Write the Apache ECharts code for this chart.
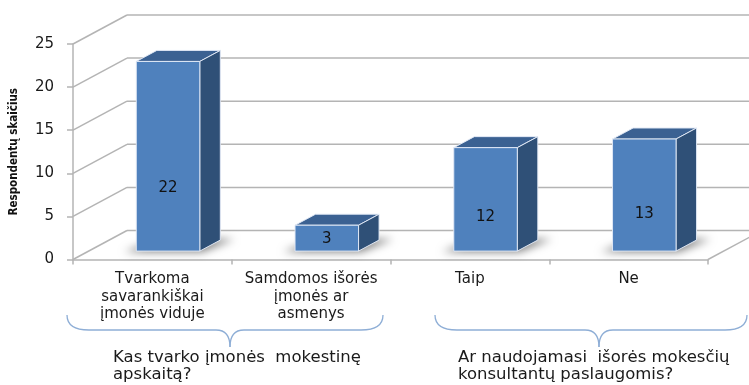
<!DOCTYPE html>
<html>
<head>
<meta charset="utf-8">
<script src="https://cdn.jsdelivr.net/npm/echarts/dist/echarts.min.js"></script>
<style>html,body{margin:0;padding:0;background:#fff;}#c{width:749px;height:385px;}</style>
</head>
<body>
<div id="c"></div>
<script>
// ---- data ----
const categories = ['Tvarkoma\nsavarankiškai\nįmonės viduje', 'Samdomos išorės\nįmonės ar\nasmenys', 'Taip', 'Ne'];
const values = [22, 3, 12, 13];
const yTicks = [0, 5, 10, 15, 20, 25];
const yAxisTitle = 'Respondentų skaičius';
const groupTitles = ['Kas tvarko įmonės  mokestinę\napskaitą?', 'Ar naudojamasi  išorės mokesčių\nkonsultantų paslaugomis?'];

// ---- style / projection constants ----
const DX = 54, DY = -29;      // depth of the 3D box
const F1 = 0.29, FD = 0.38;   // bar front offset and bar depth (fraction of box depth)
const BAR_W = 0.4;
const GRID_COLOR = '#b4b4b4';
const FONT = 'DejaVu Sans';

const chart = echarts.init(document.getElementById('c'), null, {renderer: 'canvas'});

function wallsItem(params, api) {
  const v = api.value(1);
  const cs = params.coordSys;
  const p = api.coord([0, v]);
  const y = p[1];
  const gx = cs.x, gr = cs.x + cs.width;
  const ls = {stroke: GRID_COLOR, lineWidth: 1.5};
  const ch = [
    {type: 'line', shape: {x1: gx, y1: y, x2: gx + DX, y2: y + DY}, style: ls},
    {type: 'line', shape: {x1: gx + DX, y1: y + DY, x2: gr + DX, y2: y + DY}, style: ls}
  ];
  if (v === 0) {
    ch.push({type: 'line', shape: {x1: gr, y1: y, x2: gr + DX, y2: y + DY}, style: ls});
  }
  return {type: 'group', children: ch};
}

function barItem(params, api) {
  const i = api.value(0), v = api.value(1);
  const base = api.coord([i, 0]);
  const top = api.coord([i, v]);
  const w = api.size([1, 0])[0] * BAR_W;
  const ox = DX * F1, oy = DY * F1, bx = DX * FD, by = DY * FD;
  const L = base[0] - w / 2 + ox, R = base[0] + w / 2 + ox;
  const B = base[1] + oy, T = top[1] + oy;
  const edge = 'rgba(225,233,245,0.95)';
  const SH = 3000;
  const shadowPts = [[L - 12, B + 1], [R + 2, B + 1], [R + bx + 14, B + by - 1], [L + bx, B + by]]
    .map(p => [p[0] - SH, p[1]]);
  const h = B - T;
  const ly = B - Math.max(h * 0.33, 12);
  return {
    type: 'group',
    children: [
      {type: 'polygon', shape: {points: shadowPts},
        style: {fill: '#000', shadowColor: 'rgba(0,0,0,0.5)', shadowBlur: 8, shadowOffsetX: SH, shadowOffsetY: 0}},
      {type: 'polygon', shape: {points: [[L, T], [L + bx, T + by], [R + bx, T + by], [R, T]]},
        style: {fill: '#3b6192', stroke: edge, lineWidth: 1}},
      {type: 'polygon', shape: {points: [[R, T], [R + bx, T + by], [R + bx, B + by], [R, B]]},
        style: {fill: '#2f5077', stroke: edge, lineWidth: 1}},
      {type: 'rect', shape: {x: L, y: T, width: R - L, height: B - T},
        style: {fill: '#4f81bd', stroke: edge, lineWidth: 1}},
      {type: 'text', x: (L + R) / 2, y: ly,
        style: {text: String(v), fill: '#111', font: '15px "' + FONT + '"', align: 'center', verticalAlign: 'middle'}}
    ]
  };
}

function brace(x1, x2, tip, yTop, yMid, yTip) {
  const st = {stroke: '#8eaed6', lineWidth: 1.3, fill: null};
  const q = (ax, ay, cx, cy, bx, by) => ({type: 'bezierCurve', shape: {x1: ax, y1: ay, cpx1: cx, cpy1: cy, x2: bx, y2: by}, style: st});
  const l = (ax, ay, bx, by) => ({type: 'line', shape: {x1: ax, y1: ay, x2: bx, y2: by}, style: st});
  return {
    type: 'group',
    children: [
      q(x1, yTop, x1, yMid, x1 + 22, yMid),
      l(x1 + 22, yMid, tip - 14, yMid),
      q(tip - 14, yMid, tip, yMid, tip, yTip),
      q(tip, yTip, tip, yMid, tip + 14, yMid),
      l(tip + 14, yMid, x2 - 22, yMid),
      q(x2 - 22, yMid, x2, yMid, x2, yTop)
    ]
  };
}

const option = {
  animation: false,
  backgroundColor: '#ffffff',
  grid: {left: 72, right: 41, top: 44, bottom: 125.5, containLabel: false},
  xAxis: {
    type: 'category',
    data: categories,
    boundaryGap: true,
    axisLine: {show: true, lineStyle: {color: GRID_COLOR, width: 1.5}},
    axisTick: {show: true, length: 5, lineStyle: {color: GRID_COLOR, width: 1.5}},
    axisLabel: {interval: 0, margin: 11, color: '#1a1a1a', fontFamily: FONT, fontSize: 15, lineHeight: 17.5, align: 'center'},
    splitLine: {show: false}
  },
  yAxis: {
    type: 'value',
    min: 0, max: 25, interval: 5,
    name: yAxisTitle,
    nameLocation: 'middle',
    nameGap: 53,
    nameRotate: 90,
    nameTextStyle: {fontFamily: '"Liberation Sans Narrow", "DejaVu Sans Condensed", sans-serif', fontWeight: 'bold', fontSize: 11.5, color: '#111'},
    axisLine: {show: true, lineStyle: {color: GRID_COLOR, width: 1.5}},
    axisTick: {show: true, length: 6, lineStyle: {color: GRID_COLOR, width: 1.5}},
    axisLabel: {margin: 19, color: '#1a1a1a', fontFamily: FONT, fontSize: 15},
    splitLine: {show: false}
  },
  series: [
    {
      type: 'custom', name: 'walls', z: 1, clip: false, silent: true,
      renderItem: wallsItem,
      encode: {x: 0, y: 1},
      data: yTicks.map(v => [0, v])
    },
    {
      type: 'custom', name: 'Respondentai', z: 3, clip: false,
      renderItem: barItem,
      encode: {x: 0, y: 1},
      data: values.map((v, i) => [i, v])
    }
  ],
  graphic: [
    brace(67, 383, 230, 315, 330, 347),
    brace(435, 747, 599, 315, 330, 347),
    {type: 'text', x: 113, y: 349, scaleX: 1.1,
      style: {text: groupTitles[0], fill: '#1a1a1a', font: '15px "DejaVu Sans"', lineHeight: 17.5}},
    {type: 'text', x: 458, y: 349, scaleX: 1.1,
      style: {text: groupTitles[1], fill: '#1a1a1a', font: '15px "DejaVu Sans"', lineHeight: 17.5}}
  ]
};
chart.setOption(option);
</script>
</body>
</html>
